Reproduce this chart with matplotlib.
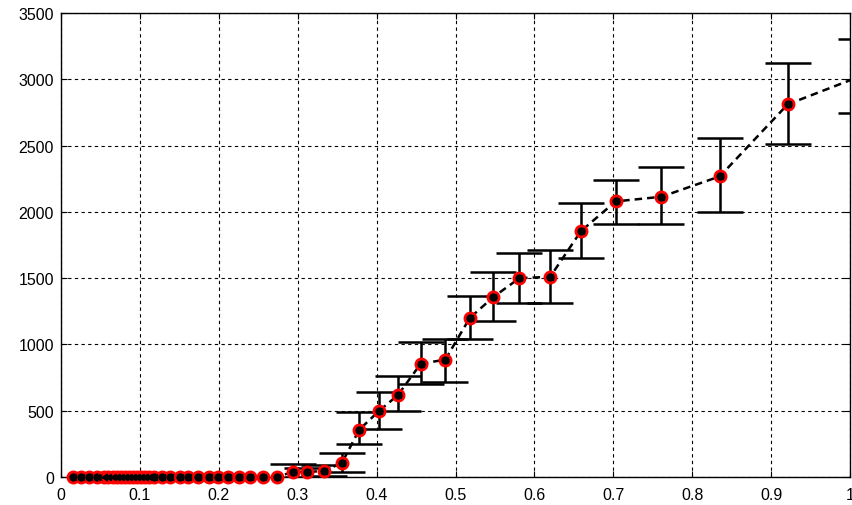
import numpy as np
import matplotlib
matplotlib.use("Agg")
import matplotlib.pyplot as plt

plt.rcParams["font.family"] = ["Liberation Sans", "DejaVu Sans"]

# points sitting on zero (no visible error)
x_zero = [0.015, 0.025, 0.036, 0.046, 0.054, 0.060, 0.066, 0.071, 0.076, 0.081,
          0.086, 0.091, 0.096, 0.101, 0.106, 0.112, 0.118, 0.128, 0.138, 0.151,
          0.161, 0.174, 0.187, 0.199, 0.212, 0.225, 0.240, 0.256, 0.274]

# points with error bars: x, value, lower end, upper end
x_err = [0.294, 0.312, 0.333, 0.356, 0.378, 0.403, 0.427, 0.456, 0.487, 0.518,
         0.548, 0.581, 0.620, 0.659, 0.703, 0.761, 0.835, 0.921, 1.014]
y_err = [40, 38, 46, 106, 357, 498, 618, 855, 885, 1199,
         1358, 1500, 1510, 1855, 2079, 2114, 2268, 2811, 3025]
lo = [-20, 0, 7, 40, 249, 362, 500, 701, 714, 1041,
      1179, 1315, 1315, 1652, 1908, 1912, 2001, 2512, 2746]
hi = [100, 70, 88, 181, 490, 639, 764, 1016, 1041, 1363,
      1544, 1692, 1712, 2064, 2240, 2336, 2555, 3123, 3304]

x_all = x_zero + x_err
y_all = [0] * len(x_zero) + y_err

fig = plt.figure(figsize=(8.53, 5.06), dpi=100)
ax = fig.add_axes([0.0715, 0.0553, 0.925, 0.917])

yerr = [np.array(y_err) - np.array(lo), np.array(hi) - np.array(y_err)]
ax.errorbar(x_err, y_err, yerr=yerr, fmt="none", ecolor="black", elinewidth=1.8,
            capsize=16.5, capthick=1.8, zorder=3)
ax.plot(x_all, y_all, color="black", linestyle=(0, (3, 2)), linewidth=1.8, zorder=4)

# markers: only those whose centre lies inside the axes, drawn unclipped
mx = [x for x in x_all if x <= 1]
my = [y for x, y in zip(x_all, y_all) if x <= 1]
ax.plot(mx, my, linestyle="none", marker="o", markersize=8,
        markerfacecolor="black", markeredgecolor="red", markeredgewidth=2,
        zorder=5, clip_on=False)
ax.plot(mx, my, linestyle="none", marker="<", markersize=4.5,
        color="black", zorder=6, clip_on=False)

ax.set_xlim(0, 1)
ax.set_ylim(0, 3500)
ax.set_xticks(np.arange(0, 1.01, 0.1))
ax.set_xticklabels(["0", "0.1", "0.2", "0.3", "0.4", "0.5", "0.6", "0.7", "0.8", "0.9", "1"])
ax.set_yticks(np.arange(0, 3501, 500))
ax.grid(True, color="black", linestyle=(0, (3, 3)), linewidth=0.8)
ax.set_axisbelow(True)
ax.tick_params(direction="in", top=True, right=True, length=4, labelsize=11.5,
               colors="black")
ax.tick_params(axis="y", pad=5)
ax.tick_params(axis="x", pad=7)
for sp in ax.spines.values():
    sp.set_linewidth(1.0)

fig.savefig("out.png", dpi=100)
